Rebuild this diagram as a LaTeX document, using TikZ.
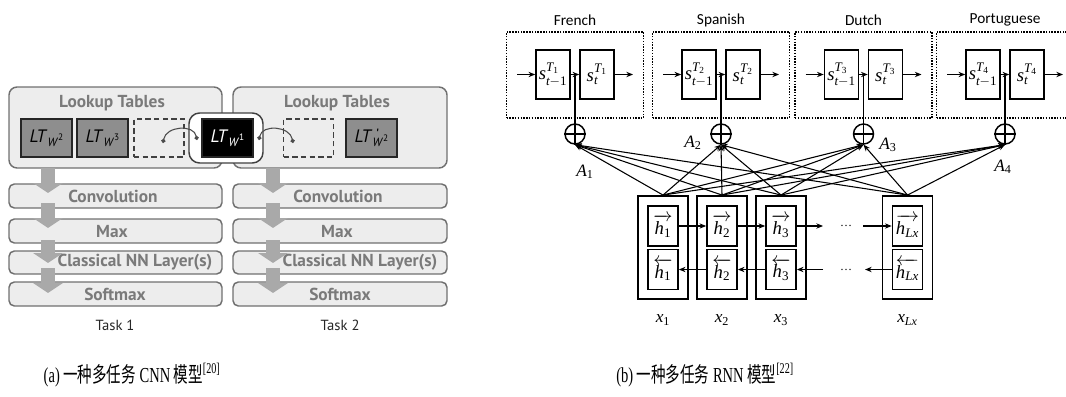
\documentclass[tikz,border=0pt]{standalone}
\usepackage{fontspec}
\usepackage{amsmath}
\usepackage{graphicx}
\setmainfont{Liberation Serif}
\newfontfamily\myriad{PT Sans}
\newfontfamily\calib{Carlito}
\newfontfamily\cjk{Noto Sans CJK SC}
\usetikzlibrary{arrows.meta}

\definecolor{panelfill}{HTML}{EDEDED}
\definecolor{panelline}{HTML}{707070}
\definecolor{tabfill}{HTML}{8E8E8E}
\definecolor{headgray}{HTML}{7A7A7A}
\definecolor{flowgray}{HTML}{A9A9A9}

\newcommand{\unitpx}{0.75pt}
% lookup table labels
\newcommand{\ltw}[1]{\textit{LT}\raisebox{-0.45ex}{\small\textit{W}\raisebox{0.9ex}{\scriptsize #1}}}
\newcommand{\ltwp}[1]{\textit{LT}\raisebox{-0.45ex}{\small\rlap{\raisebox{1.55ex}{\hspace{0.3em}\bfseries '}}\textit{W}\raisebox{0.9ex}{\scriptsize #1}}}
% decoder states
\newcommand{\sprev}[1]{$\mathit{s}^{\mathit{T}_{\mathrm{#1}}}_{\mathit{t}-\mathrm{1}}$}
\newcommand{\scur}[1]{$\mathit{s}^{\mathit{T}_{\mathrm{#1}}}_{\mathit{t}}$}

\tikzset{
  sized/.style 2 args={minimum width=#1*\unitpx, minimum height=#2*\unitpx},
  panel/.style={draw=panelline, fill=panelfill, line width=1.1pt, rounded corners=6pt, inner sep=0pt},
  layer/.style={panel, rounded corners=4pt},
  head/.style={font=\myriad\bfseries\fontsize{13}{15}\selectfont, text=headgray, inner sep=0pt},
  tab/.style={draw=black!85, fill=tabfill, line width=1.4pt, inner sep=0pt, font=\myriad\fontsize{13.5}{15}\selectfont},
  slot/.style={draw=black!75, fill=panelfill, line width=1.1pt, dash pattern=on 4pt off 2.5pt, inner sep=0pt},
  holder/.style={draw=black!75, fill=white, line width=1.1pt, rounded corners=8pt, inner sep=0pt},
  share/.style={draw=black!70, line width=0.8pt, {Circle[length=3.2pt]}-{Circle[length=3.2pt]}},
  flow/.style={draw=flowgray, line width=10.5pt, -{Triangle[length=7.5pt, width=22pt]}},
  task/.style={font=\myriad\fontsize{11}{13}\selectfont, text=black!85},
  langbox/.style={draw, line width=1.1pt, densely dotted, inner sep=0pt},
  lang/.style={font=\calib\fontsize{11.5}{13}\selectfont},
  cell/.style={draw, line width=1.3pt, inner sep=0pt, fill=white, font=\fontsize{14}{16}\selectfont},
  outbox/.style={draw, line width=1.4pt, inner sep=0pt},
  plus/.style={circle, draw, line width=1.1pt, minimum size=20*\unitpx, inner sep=0pt},
  arr/.style={line width=0.8pt, -{Stealth[length=5pt, width=4pt]}},
  mlab/.style={font=\fontsize{13}{15}\selectfont, inner sep=0pt},
  captext/.style={font=\fontsize{16}{18}\selectfont, inner sep=0pt}
}

\begin{document}
\begin{tikzpicture}[x=0.75pt, y=-0.75pt]
\useasboundingbox (0,0) rectangle (1066,396);

% (a) multi-task CNN
\node[panel, sized={213}{81}] (lk1) at (115.5,127.5) {};
\node[panel, sized={214}{81}] (lk2) at (340,127.5) {};
\node[head] at (112,103) {Lookup Tables};
\node[head] at (337,103) {Lookup Tables};
\node[tab, sized={51}{38}] (w2) at (46.5,138) {\ltw{2}};
\node[tab, sized={51}{38}] (w3) at (102.5,138) {\ltw{3}};
\node[slot, sized={50}{38}] (s1) at (159,138) {};
\node[holder, sized={74}{50}] (hold) at (226,138) {};
\node[tab, fill=black, text=white, sized={51}{38}] (w1) at (227.5,138) {\ltw{1}};
\node[slot, sized={50}{38}] (s2) at (308.5,138) {};
\node[tab, sized={51}{38}] (w2b) at (371.5,138) {\ltwp{2}};
\coordinate (d1) at (163,143);
\coordinate (d2) at (197,140);
\coordinate (d3) at (259,140);
\coordinate (d4) at (293,143);
\draw[share] (d1) .. controls (166,126) and (194,124) .. (d2);
\draw[share] (d3) .. controls (262,124) and (290,126) .. (d4);

\foreach \n/\y/\h/\t/\tx in {conv/196/24/Convolution/113, max/231/24/Max/112, nn/262.5/23/{Classical NN Layer(s)}/135, soft/294/24/Softmax/115} {
  \node[layer, sized={213}{\h}] (\n1) at (115.5,\y) {};
  \node[layer, sized={214}{\h}] (\n2) at (340,\y) {};
  \node[head] at (\tx,\y) {\t};
  \node[head] at (\tx+225,\y) {\t};
}
\foreach \a/\b in {168/193, 203/228, 240/263, 268/293} {
  \draw[flow] (48,\a) -- (48,\b);
  \draw[flow] (273,\a) -- (273,\b);
}
\node[task] at (115,325) {Task 1};
\node[task] at (340,325) {Task 2};

% (b) multi-task RNN
\foreach \i/\lang/\cx in {1/French/575, 2/Spanish/721, 3/Dutch/863.5, 4/Portuguese/1005} {
  \node[lang] (name\i) at (\cx,20) {\lang};
  \node[langbox, sized={137}{86}] (dec\i) at (\cx,75) {};
  \node[cell, sized={34}{49}] (sa\i) at (\cx-22,74.5) {\sprev{\i}};
  \node[cell, sized={34}{49}] (sb\i) at (\cx+22,74.5) {\scur{\i}};
  \coordinate (in\i) at (\cx-58,74.5);
  \coordinate (out\i) at (\cx+58,74.5);
  \draw[arr] (in\i) -- (sa\i.west);
  \draw[arr] (sa\i.east) -- (sb\i.west);
  \draw[arr] (sb\i.east) -- (out\i);
  \node[plus] (p\i) at (\cx,134) {};
  \draw[line width=1.1pt] (p\i.north) -- (p\i.south) (p\i.west) -- (p\i.east);
  \draw[line width=0.8pt] (p\i.north) -- (p\i.north |- sa\i.east);
}
\node[mlab] at (585,172) {$\mathit{A}_{\mathrm{1}}$};
\node[mlab] at (693,143) {$\mathit{A}_{\mathrm{2}}$};
\node[mlab] at (888,145) {$\mathit{A}_{\mathrm{3}}$};
\node[mlab] at (1003,167) {$\mathit{A}_{\mathrm{4}}$};

\foreach \j/\cx/\sub in {1/663/{\mathrm{1}}, 2/722/{\mathrm{2}}, 3/781/{\mathrm{3}}, L/907.5/{\mathit{Lx}}} {
  \node[outbox, sized={50}{103}] (x\j) at (\cx,247.5) {};
  \node[cell, sized={30}{40}] (f\j) at (\cx,226) {$\overrightarrow{\mathit{h}_{\sub}}$};
  \node[cell, sized={30}{40}] (b\j) at (\cx,269.5) {$\overleftarrow{\mathit{h}_{\sub}}$};
  \node[mlab] (lab\j) at (\cx,320) {$\mathit{x}_{\sub}$};
}
\coordinate (fe) at (823,226);
\coordinate (fs) at (863,226);
\coordinate (bs) at (823,269.5);
\coordinate (be) at (865,269.5);
\draw[arr] (f1.east) -- (f2.west);
\draw[arr] (f2.east) -- (f3.west);
\draw[arr] (f3.east) -- (fe);
\draw[arr] (fs) -- (fL.west);
\draw[arr] (bL.west) -- (be);
\draw[arr] (bs) -- (b3.east);
\draw[arr] (b3.west) -- (b2.east);
\draw[arr] (b2.west) -- (b1.east);
\node[font=\small] at (846,226) {\dots};
\node[font=\small] at (846,269.5) {\dots};

\foreach \j in {1,2,3,L} {
  \foreach \i in {1,2,3,4} {
    \draw[arr] (x\j.north) -- (p\i.south);
  }
}

% captions
\node[captext] at (132,375) {\scalebox{0.68}[1]{(a) {\cjk 一种多任务} CNN {\cjk 模型}\textsuperscript{[20]}}};
\node[captext] at (705,375) {\scalebox{0.68}[1]{(b) {\cjk 一种多任务} RNN {\cjk 模型}\textsuperscript{[22]}}};
\end{tikzpicture}
\end{document}
